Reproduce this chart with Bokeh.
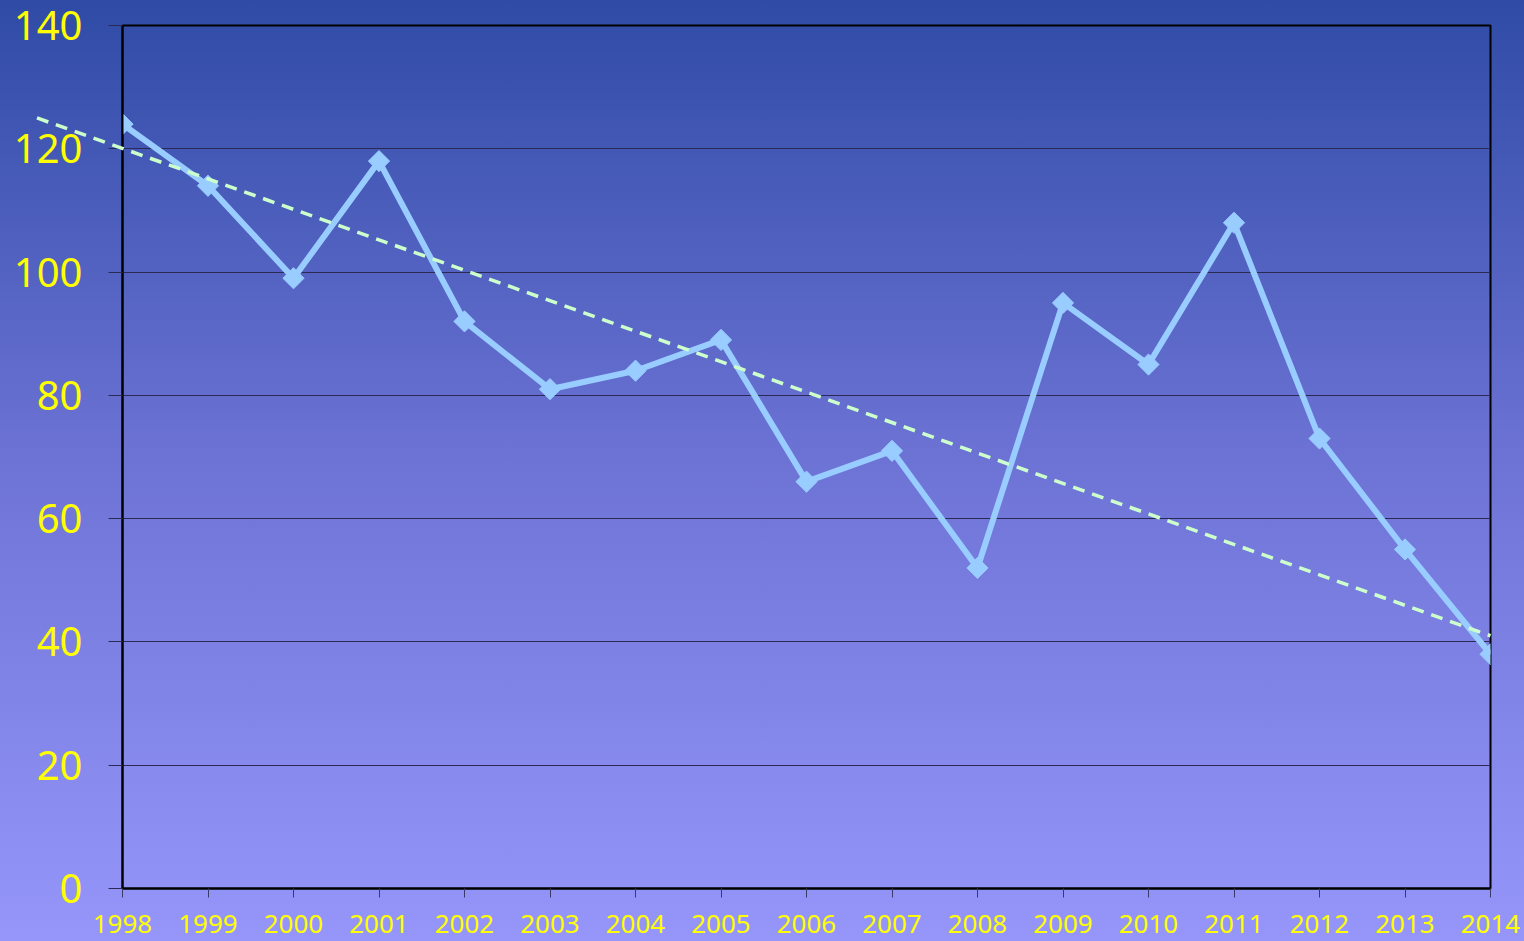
import math
from bokeh.plotting import figure
from bokeh.models import Range1d, FixedTicker
from bokeh.embed import file_html
from bokeh.resources import INLINE

# ---- data ----
years = [1998, 1999, 2000, 2001, 2002, 2003, 2004, 2005, 2006, 2007,
         2008, 2009, 2010, 2011, 2012, 2013, 2014]
values = [124, 114, 99, 118, 92, 81, 84, 89, 66, 71,
          52, 95, 85, 108, 73, 55, 38]
trend_years = [1997, 2014]
trend_values = [125, 41]
y_ticks = [0, 20, 40, 60, 80, 100, 120, 140]
x_labels = {y: str(y) for y in years}

W, H = 1524, 941
p = figure(width=W, height=H, output_backend="svg", toolbar_location=None,
           x_range=Range1d(years[0], years[-1]), y_range=Range1d(0, 140),
           min_border_left=122, min_border_right=34, min_border_top=25,
           min_border_bottom=53)
p.styles = {"background-image": "linear-gradient(to bottom, #2f4ba5 0%, #6e74d6 50%, #9696fa 100%)"}
p.background_fill_color = None
p.border_fill_color = None
p.outline_line_color = "black"
p.outline_line_width = 2

# axes
xa = p.xaxis[0]
xa.ticker = FixedTicker(ticks=years)
xa.major_label_overrides = x_labels
xa.axis_line_color = "black"
xa.axis_line_width = 2
xa.major_tick_in = 0
xa.major_tick_out = 9
xa.major_tick_line_color = "#3a3a6a"
xa.minor_tick_line_color = None
xa.major_label_text_color = "#FFFF00"
xa.major_label_text_font = "Noto Sans"
xa.major_label_text_font_size = "26px"
xa.major_label_standoff = 17

ya = p.yaxis[0]
ya.ticker = FixedTicker(ticks=y_ticks)
ya.axis_line_color = "black"
ya.axis_line_width = 2
ya.major_tick_in = 0
ya.major_tick_out = 14
ya.major_tick_line_color = "#2a2a55"
ya.minor_tick_line_color = None
ya.major_label_text_color = "#FFFF00"
ya.major_label_text_font = "Noto Sans"
ya.major_label_text_font_size = "40px"
ya.major_label_standoff = 26

p.xgrid.grid_line_color = None
p.ygrid.ticker = FixedTicker(ticks=y_ticks)
p.ygrid.grid_line_color = "#2a2a55"
p.ygrid.grid_line_width = 1

# series
p.line(years, values, line_color="#99CCFF", line_width=6)
p.scatter(years, values, marker="square", angle=math.pi / 4, size=15,
          fill_color="#99CCFF", line_color="#99CCFF")

# trend line (extends one period before the first year)
p.line(trend_years, trend_values, line_color="#CCFFCC", line_width=3.5,
       line_dash="12 8", level="overlay")

open("out.html", "w").write(file_html(p, INLINE))
